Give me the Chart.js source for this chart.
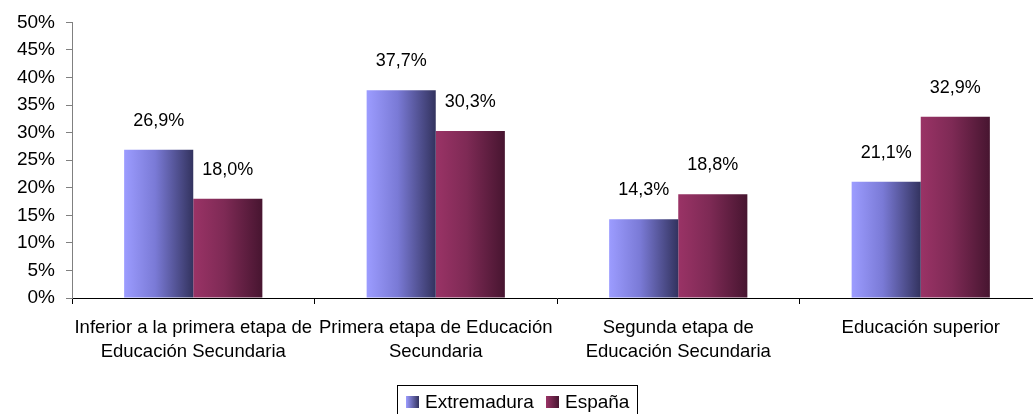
<!DOCTYPE html>
<html>
<head>
<meta charset="utf-8">
<script src="https://cdn.jsdelivr.net/npm/chart.js@4/dist/chart.umd.min.js"></script>
<style>
html,body{margin:0;padding:0;overflow:hidden;background:#fff;width:1033px;height:414px;}
canvas{display:block;}
</style>
</head>
<body>
<canvas id="c" width="1045" height="414"></canvas>
<script>
const categories = [
  ["Inferior a la primera etapa de", "Educación Secundaria"],
  ["Primera etapa de Educación", "Secundaria"],
  ["Segunda etapa de", "Educación Secundaria"],
  ["Educación superior"]
];
const seriesNames = ["Extremadura", "España"];
const extremadura = [26.9, 37.7, 14.3, 21.1];
const espana = [18.0, 30.3, 18.8, 32.9];
const yTicks = [0, 5, 10, 15, 20, 25, 30, 35, 40, 45, 50];

const gradStops = [
  ["#9c9cff", "#7a7ad6", "#33335f"],
  ["#9a3366", "#7e2a55", "#471530"]
];
const CAT_PCT = 0.57;
const FONT = "'Liberation Sans', Arial, sans-serif";

function barGradient(ctx) {
  const chart = ctx.chart;
  const stops = gradStops[ctx.datasetIndex];
  if (!chart.chartArea || ctx.dataIndex === undefined) return stops[0];
  const xs = chart.scales.x;
  const c = xs.getPixelForValue(ctx.dataIndex);
  const w = (xs.width / categories.length) * CAT_PCT / 2;
  const left = ctx.datasetIndex === 0 ? c - w : c;
  const g = chart.ctx.createLinearGradient(left, 0, left + w, 0);
  g.addColorStop(0, stops[0]);
  g.addColorStop(0.45, stops[1]);
  g.addColorStop(1, stops[2]);
  return g;
}

const labelPlugin = {
  id: 'valueLabels',
  afterDatasetsDraw(chart) {
    const ctx = chart.ctx;
    ctx.save();
    ctx.font = "18px " + FONT;
    ctx.fillStyle = "#000";
    ctx.textAlign = "center";
    ctx.textBaseline = "middle";
    chart.data.datasets.forEach((ds, di) => {
      chart.getDatasetMeta(di).data.forEach((el, i) => {
        const txt = ds.data[i].toFixed(1).replace('.', ',') + '%';
        ctx.fillText(txt, el.x, el.y - 29);
      });
    });
    ctx.restore();
  }
};

const legendPlugin = {
  id: 'boxLegend',
  afterDraw(chart) {
    const ctx = chart.ctx;
    ctx.save();
    ctx.strokeStyle = "#000";
    ctx.lineWidth = 1;
    ctx.strokeRect(397.5, 385.5, 240, 40);
    ctx.font = "19px " + FONT;
    ctx.textBaseline = "middle";
    ctx.fillStyle = "#000";
    const xs = [406, 546];
    chart.data.datasets.forEach((ds, di) => {
      const x = xs[di];
      const g = ctx.createLinearGradient(x, 0, x + 13, 0);
      g.addColorStop(0, gradStops[di][0]);
      g.addColorStop(1, gradStops[di][2]);
      ctx.fillStyle = g;
      ctx.fillRect(x, 396, 13, 12);
      ctx.fillStyle = "#000";
      ctx.fillText(ds.label, x + 19, 403);
    });
    ctx.restore();
  }
};

new Chart(document.getElementById('c'), {
  type: 'bar',
  data: {
    labels: categories,
    datasets: [
      { label: seriesNames[0], data: extremadura, backgroundColor: barGradient, borderWidth: 0 },
      { label: seriesNames[1], data: espana, backgroundColor: barGradient, borderWidth: 0 }
    ]
  },
  options: {
    responsive: false,
    animation: false,
    devicePixelRatio: 1,
    layout: { padding: { left: 0, right: 3, top: 22, bottom: 0 } },
    datasets: { bar: { categoryPercentage: CAT_PCT, barPercentage: 1 } },
    plugins: { legend: { display: false }, tooltip: { enabled: false } },
    scales: {
      x: {
        grid: { offset: true, drawOnChartArea: false, drawTicks: true, tickLength: 6, color: "#000" },
        border: { color: "#000", width: 1 },
        ticks: { color: "#000", font: { family: FONT, size: 18.5, lineHeight: 1.3 }, padding: 12, maxRotation: 0, autoSkip: false },
        afterFit(s) { s.height = 116; }
      },
      y: {
        min: 0, max: 50,
        afterBuildTicks(s) { s.ticks = yTicks.map(v => ({ value: v })); },
        grid: { drawOnChartArea: false, drawTicks: true, tickLength: 6, color: "#808080" },
        border: { color: "#808080", width: 1 },
        ticks: { color: "#000", font: { family: FONT, size: 19 }, padding: 11, callback: v => v + '%' },
        afterFit(s) { s.width = 72; }
      }
    }
  },
  plugins: [labelPlugin, legendPlugin]
});
</script>
</body>
</html>
